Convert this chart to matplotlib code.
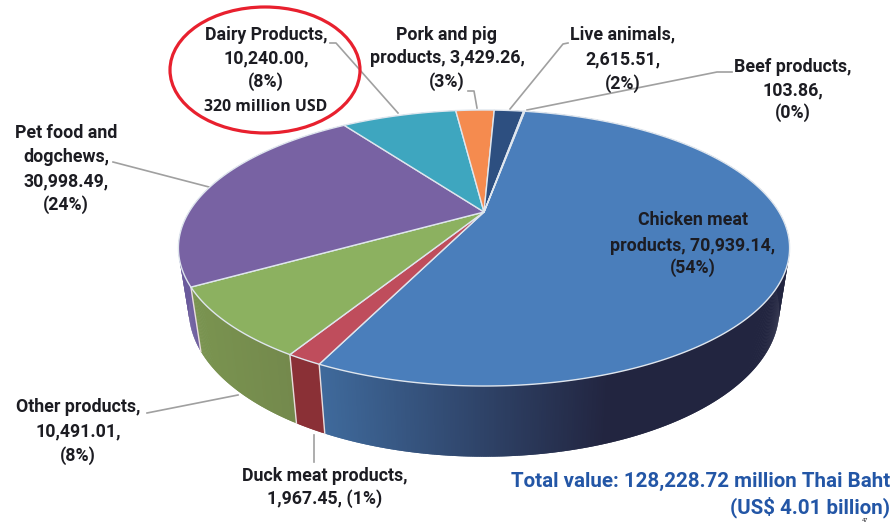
import numpy as np
import matplotlib
matplotlib.use('Agg')
from matplotlib import pyplot as plt
from matplotlib.collections import PolyCollection
from matplotlib.colors import to_rgb
from matplotlib.patches import Ellipse

# values in million Thai Baht, clockwise starting at chicken
categories = ['Chicken meat products', 'Duck meat products', 'Other products',
              'Pet food and dogchews', 'Dairy Products', 'Pork and pig products',
              'Live animals', 'Beef products']
values = [70939.14, 1967.45, 10491.01, 30998.49, 10240.00, 3429.26, 2615.51, 103.86]
percents = [54, 1, 8, 24, 8, 3, 2, 0]

top_colors = ['#4a7ebb', '#bf4d5c', '#8cb160', '#7862a3', '#3ea6bf', '#f58b4f', '#2d4f80', '#4a7ebb']
wall_left = ['#3f6a9c', '#8a3036', '#7a9450', '#6a5a9c', '#3ea6bf', '#f58b4f', '#2d4f80', '#4a7ebb']
wall_right = ['#222540', '#8a3036', '#73884c', '#5f5190', '#3ea6bf', '#f58b4f', '#2d4f80', '#4a7ebb']

FONT = 'Roboto'
TEXT_COLOR = '#1c1c22'
LINE_COLOR = '#a0a0a0'
START_ANGLE = 80.0


def project(t, apex_y, radius, b, k=0.261, apex_x=484.0):
    """Unit circle angle (deg) to pixel coords, with a bit of perspective"""
    t = np.radians(t)
    d = 1 + k * np.sin(t)
    return apex_x + radius * np.cos(t) / d, apex_y - b * np.sin(t) / d


def top_edge(t):
    return project(t, 212.0, 295.0, 128.6)


def bottom_edge(t):
    return project(t, 271.6, 285.0, 136.8)


fig = plt.figure(figsize=(8.95, 5.23), dpi=100)
ax = fig.add_axes([0, 0, 1, 1])
ax.set_xlim(0, 895)
ax.set_ylim(523, 0)
ax.axis('off')

total = sum(values)
angles = START_ANGLE - np.cumsum([0] + values) / total * 360.0

# side walls first, the top goes over them
for i in range(len(values)):
    ts = np.linspace(angles[i], angles[i + 1], max(int(abs(angles[i + 1] - angles[i]) * 3), 3))
    c1 = np.array(to_rgb(wall_left[i]))
    c2 = np.array(to_rgb(wall_right[i]))
    quads = []
    cols = []
    for j in range(len(ts) - 1):
        # each quad runs over the next one, otherwise thin seams show up
        a = ts[j]
        b = ts[min(j + 2, len(ts) - 1)]
        xa, ya = top_edge(a)
        xb, yb = top_edge(b)
        xc, yc = bottom_edge(b)
        xd, yd = bottom_edge(a)
        quads.append([(xa, ya), (xb, yb), (xc, yc), (xd, yd)])
        # shade goes dark quickly towards the right of the pie
        f = np.clip((xa - 320.0) / 290.0, 0, 1) if i == 0 else np.clip((xa - 190.0) / 110.0, 0, 1)
        cols.append(c1 * (1 - f) + c2 * f)
    ax.add_collection(PolyCollection(quads, facecolors=cols, edgecolors='none', zorder=1))
    # pale seam between the slices
    x1, y1 = top_edge(angles[i])
    x2, y2 = bottom_edge(angles[i])
    if np.sin(np.radians(angles[i])) < 0:
        ax.plot([x1, x2], [y1, y2], color='#e8dcdc', lw=1.0, zorder=2)

# top of the pie
for i in range(len(values)):
    ts = np.linspace(angles[i], angles[i + 1], max(int(abs(angles[i + 1] - angles[i]) * 2), 2))
    xs, ys = top_edge(ts)
    ax.fill(np.r_[484.0, xs], np.r_[212.0, ys], facecolor=top_colors[i],
            edgecolor='#dfe6ee', linewidth=1.0, joinstyle='round', zorder=3)

# leader lines
leaders = [
    ([330, 336, 398], [43, 43, 113]),
    ([468, 474, 477], [91, 91, 108]),
    ([568, 563, 510], [43, 44, 109]),
    ([732, 717, 527], [72, 72, 110]),
    ([113, 209], [162, 187]),
    ([147, 238], [413, 395]),
    ([314, 314], [435, 462]),
]
for lx, ly in leaders:
    ax.plot(lx, ly, color=LINE_COLOR, lw=1.2, zorder=2)

# data labels, one line per entry
labels = [
    (266, [35, 58, 82], ['Dairy Products,', '10,240.00,', '(8%)']),
    (447, [35, 58, 82], ['Pork and pig', 'products, 3,429.26,', '(3%)']),
    (623, [34, 59, 84], ['Live animals,', '2,615.51,', '(2%)']),
    (793, [67, 90, 113], ['Beef products,', '103.86,', '(0%)']),
    (693, [220, 246, 268], ['Chicken meat', 'products, 70,939.14,', '(54%)']),
    (66, [133, 157, 181, 205], ['Pet food and', 'dogchews,', '30,998.49,', '(24%)']),
    (78, [407, 431, 456], ['Other products,', '10,491.01,', '(8%)']),
    (325, [476, 499], ['Duck meat products,', '1,967.45, (1%)']),
]
for cx, ys, lines in labels:
    for y, line in zip(ys, lines):
        ax.text(cx, y, line, ha='center', va='center', fontsize=12.8, family=FONT,
                color=TEXT_COLOR, weight='bold', zorder=5)

ax.text(266, 107, '320 million USD', ha='center', va='center', fontsize=11.4,
        family='Open Sans', weight='bold', color=TEXT_COLOR, zorder=5)

ax.add_patch(Ellipse((265, 70), 190, 126, fill=False, edgecolor='#e8202e', lw=2.3, zorder=6))

ax.text(890, 481, 'Total value: 128,228.72 million Thai Baht', ha='right', va='center',
        fontsize=14.8, family=FONT, weight='bold', color='#2356a6', zorder=5)
ax.text(890, 507, '(US$ 4.01 billion)', ha='right', va='center',
        fontsize=14.8, family=FONT, weight='bold', color='#2356a6', zorder=5)

# page number, squeezed in just above the bottom edge
ax.text(865, 522.5, '47', ha='center', va='baseline', fontsize=4, family='Liberation Sans',
        color=TEXT_COLOR, zorder=4)

fig.savefig('out.png', dpi=100)
